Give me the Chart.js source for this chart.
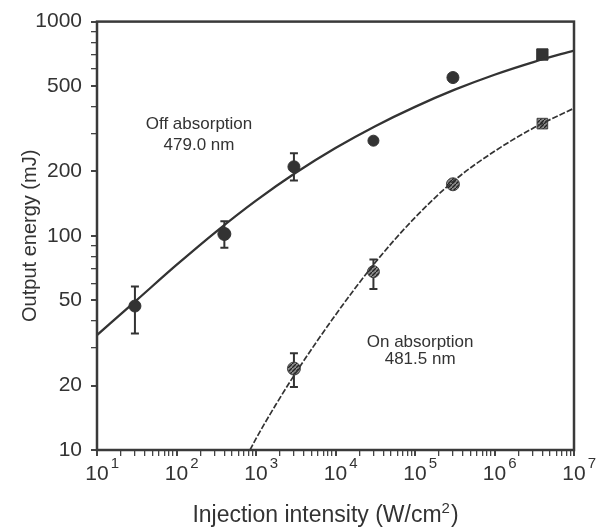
<!DOCTYPE html>
<html>
<head>
<meta charset="utf-8">
<script src="https://cdn.jsdelivr.net/npm/chart.js@4.4.1/dist/chart.umd.min.js"></script>
<style>
  html, body { margin: 0; padding: 0; background: #fff; }
</style>
</head>
<body>
<canvas id="chart" width="608" height="530"></canvas>
<script>
// measured points, off absorption (479.0 nm)
const offX = [30, 400, 3000, 30000, 300000, 4000000];
const offY = [47, 102, 210, 278, 548, 702];
const offLow = [35, 88, 181, null, null, null];
const offHigh = [58, 117, 243, null, null, null];

// measured points, on absorption (481.5 nm)
const onX = [3000, 30000, 300000, 4000000];
const onY = [24, 68, 174, 334];
const onLow = [19.7, 56.5, null, null];
const onHigh = [28.3, 77.6, null, null];

// fitted curves
const offFitX = [10, 31.6, 100, 316, 1000, 3160, 10000, 31600, 100000, 316000, 1000000, 3160000, 10000000];
const offFitY = [34.4, 50.1, 73.1, 104.7, 146, 197, 257, 325, 400, 481, 565, 649, 733];
const onFitX = [841, 1000, 1780, 3160, 10000, 31600, 100000, 316000, 1000000, 3160000, 10000000];
const onFitY = [10, 11.3, 16.3, 22.9, 42.7, 75, 121.6, 182, 248, 320, 394];

// axes
const xMajor = [1e1, 1e2, 1e3, 1e4, 1e5, 1e6, 1e7];
const xExponents = ['1', '2', '3', '4', '5', '6', '7'];
const yMajor = [10, 20, 50, 100, 200, 500, 1000];
const yMinor = [30, 40, 60, 70, 80, 90, 300, 400, 600, 700, 800, 900];

const notes = [
  { text: 'Off absorption', x: 192, y: 331 },
  { text: '479.0 nm', x: 192, y: 264 },
  { text: 'On absorption', x: 116000, y: 31.8 },
  { text: '481.5 nm', x: 116000, y: 26.6 }
];

const ink = '#333';
const family = '"Liberation Sans", Arial, Helvetica, sans-serif';
Chart.defaults.font.family = family;
Chart.defaults.color = ink;

const xMinor = [];
xMajor.slice(0, -1).forEach(d => {
  [2, 3, 4, 5, 6, 7, 8, 9].forEach(m => xMinor.push(d * m));
});

function pts(xs, ys) {
  return xs.map((x, i) => ({ x: x, y: ys[i] }));
}

function hatch() {
  const c = document.createElement('canvas');
  c.width = 4; c.height = 4;
  const g = c.getContext('2d');
  g.fillStyle = '#8a8a8a';
  g.fillRect(0, 0, 4, 4);
  g.strokeStyle = '#222';
  g.lineWidth = 1.3;
  g.beginPath();
  g.moveTo(-1, 5); g.lineTo(5, -1);
  g.stroke();
  return g.createPattern(c, 'repeat');
}

// error bars drawn just under each marker dataset
const errorBars = {
  id: 'errorBars',
  beforeDatasetDraw(chart, args) {
    const ds = chart.data.datasets[args.index];
    if (!ds.errLow) return;
    const { ctx, scales: { x, y } } = chart;
    ctx.save();
    ctx.strokeStyle = ink;
    ctx.lineWidth = 2;
    ds.data.forEach((p, i) => {
      if (ds.errLow[i] == null) return;
      const px = x.getPixelForValue(p.x);
      const top = y.getPixelForValue(ds.errHigh[i]);
      const bot = y.getPixelForValue(ds.errLow[i]);
      ctx.beginPath();
      ctx.moveTo(px, top); ctx.lineTo(px, bot);
      ctx.moveTo(px - 4, top); ctx.lineTo(px + 4, top);
      ctx.moveTo(px - 4, bot); ctx.lineTo(px + 4, bot);
      ctx.stroke();
    });
    ctx.restore();
  }
};

// frame, x tick labels with exponents, x title, in-plot notes
const textLayer = {
  id: 'textLayer',
  afterDraw(chart) {
    const { ctx, chartArea: a, scales: { x, y } } = chart;
    ctx.save();
    ctx.strokeStyle = '#3a3a3a';
    ctx.lineWidth = 2.5;
    ctx.strokeRect(a.left, a.top, a.right - a.left, a.bottom - a.top);

    ctx.fillStyle = ink;
    ctx.textBaseline = 'alphabetic';
    xMajor.forEach((v, i) => {
      const px = x.getPixelForValue(v);
      ctx.font = '21px ' + family;
      ctx.textAlign = 'center';
      ctx.fillText('10', px, a.bottom + 30);
      const w = ctx.measureText('10').width;
      ctx.font = '15px ' + family;
      ctx.textAlign = 'left';
      ctx.fillText(xExponents[i], px + w / 2 + 2, a.bottom + 18);
    });

    // axis title with superscript
    const main = 'Injection intensity (W/cm';
    ctx.font = '23px ' + family;
    const wMain = ctx.measureText(main).width;
    const wClose = ctx.measureText(')').width;
    ctx.font = '15px ' + family;
    const wSup = ctx.measureText('2').width;
    const total = wMain + wSup + 1 + wClose;
    let tx = (a.left + a.right) / 2 - 10 - total / 2;
    ctx.font = '23px ' + family;
    ctx.fillText(main, tx, a.bottom + 72);
    tx += wMain;
    ctx.font = '15px ' + family;
    ctx.fillText('2', tx, a.bottom + 63);
    tx += wSup + 1;
    ctx.font = '23px ' + family;
    ctx.fillText(')', tx, a.bottom + 72);

    ctx.font = '17px ' + family;
    ctx.textAlign = 'center';
    ctx.textBaseline = 'middle';
    notes.forEach(n => {
      ctx.fillText(n.text, x.getPixelForValue(n.x), y.getPixelForValue(n.y));
    });
    ctx.restore();
  }
};

new Chart(document.getElementById('chart'), {
  type: 'scatter',
  data: {
    datasets: [
      {
        label: 'Off absorption fit',
        data: pts(offFitX, offFitY),
        showLine: true,
        borderColor: ink,
        borderWidth: 2.3,
        pointRadius: 0,
        cubicInterpolationMode: 'monotone'
      },
      {
        label: 'On absorption fit',
        data: pts(onFitX, onFitY),
        showLine: true,
        borderColor: ink,
        borderWidth: 1.7,
        borderDash: [6, 2],
        pointRadius: 0,
        cubicInterpolationMode: 'monotone'
      },
      {
        label: 'Off absorption 479.0 nm',
        data: pts(offX, offY),
        errLow: offLow,
        errHigh: offHigh,
        pointStyle: ['circle', 'circle', 'circle', 'circle', 'circle', 'rect'],
        pointRadius: [6, 6.5, 6, 5.5, 6, 8],
        backgroundColor: ink,
        borderColor: ink,
        borderWidth: 1
      },
      {
        label: 'On absorption 481.5 nm',
        data: pts(onX, onY),
        errLow: onLow,
        errHigh: onHigh,
        pointStyle: ['circle', 'circle', 'circle', 'rect'],
        pointRadius: [6.5, 6, 6.5, 7.5],
        backgroundColor: hatch(),
        borderColor: '#444',
        borderWidth: 1
      }
    ]
  },
  options: {
    responsive: false,
    animation: false,
    layout: { padding: { top: 21, right: 34, left: 0, bottom: 0 } },
    plugins: {
      legend: { display: false },
      tooltip: { enabled: false }
    },
    scales: {
      x: {
        type: 'logarithmic',
        min: 10,
        max: 1e7,
        afterBuildTicks: s => {
          s.ticks = xMajor.concat(xMinor).sort((p, q) => p - q).map(v => ({ value: v }));
        },
        afterFit: s => { s.height = 80; },
        ticks: { display: false, autoSkip: false },
        border: { display: false },
        grid: {
          drawOnChartArea: false,
          drawTicks: true,
          tickLength: 6,
          color: '#444',
          lineWidth: c => (xMajor.includes(c.tick.value) ? 2 : 1.3)
        }
      },
      y: {
        type: 'logarithmic',
        min: 10,
        max: 1000,
        afterBuildTicks: s => {
          s.ticks = yMajor.concat(yMinor).sort((p, q) => p - q).map(v => ({ value: v }));
        },
        afterFit: s => { s.width = 97; },
        ticks: {
          autoSkip: false,
          padding: 9,
          color: ink,
          font: { size: 21 },
          callback: v => (yMajor.includes(v) ? String(v) : '')
        },
        border: { display: false },
        grid: {
          drawOnChartArea: false,
          drawTicks: true,
          tickLength: 6,
          color: '#444',
          lineWidth: c => (yMajor.includes(c.tick.value) ? 2 : 1.3)
        },
        title: {
          display: true,
          text: 'Output energy (mJ)',
          color: ink,
          font: { size: 20 },
          padding: { top: 18, bottom: 0 }
        }
      }
    }
  },
  plugins: [errorBars, textLayer]
});
</script>
</body>
</html>
